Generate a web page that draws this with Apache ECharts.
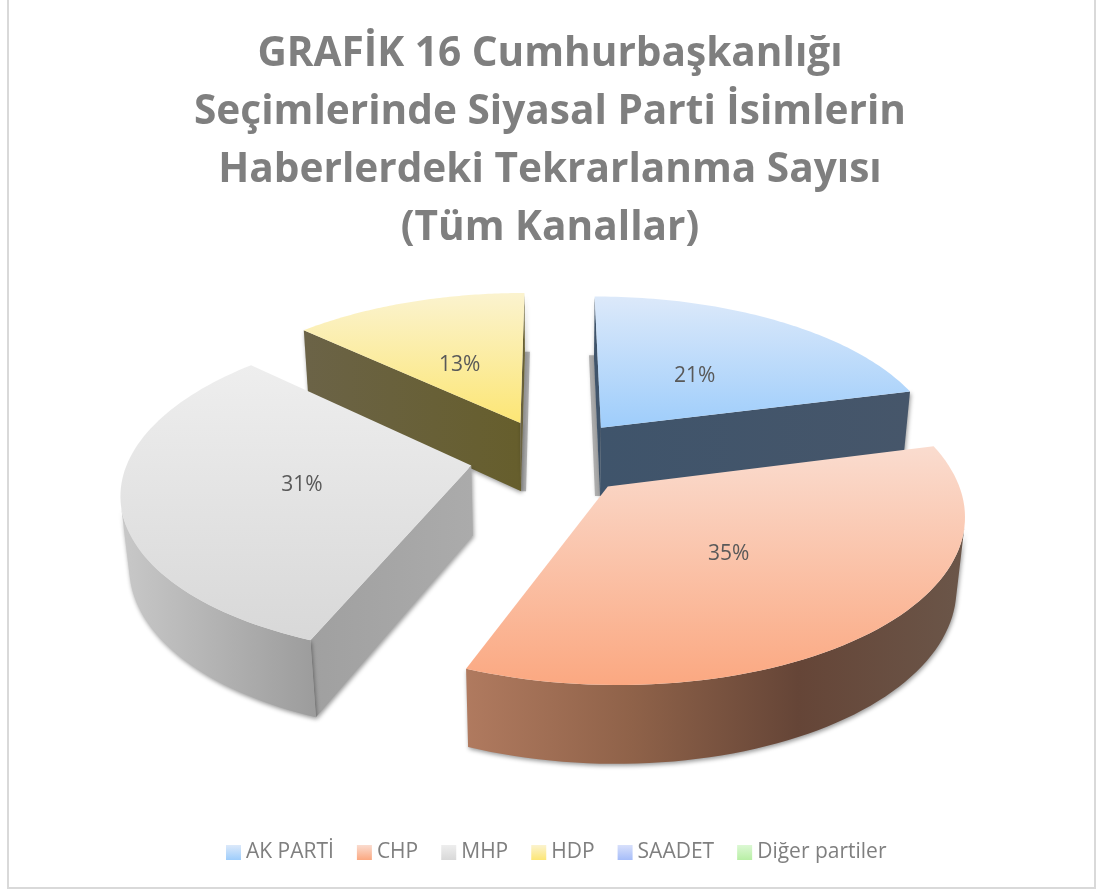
<!DOCTYPE html>
<html><head><meta charset="utf-8">
<style>html,body{margin:0;padding:0;background:#fff}#c{width:1101px;height:890px}</style>
<script src="https://cdn.jsdelivr.net/npm/echarts@6/dist/echarts.min.js"></script>
</head><body><div id="c"></div>
<script>
// Data
const categories = ['AK PARTİ','CHP','MHP','HDP','SAADET','Diğer partiler'];
const shares = [21,35,31,13,0,0];
const titleLines = ['GRAFİK 16 Cumhurbaşkanlığı','Seçimlerinde Siyasal Parti İsimlerin','Haberlerdeki Tekrarlanma Sayısı','(Tüm Kanallar)'];

// Style per category
const topFrom = ['#dce9fa','#fadccf','#eeeeee','#fbf3cf','#d8e0fb','#dcf8d4'];
const topTo   = ['#9ecdfb','#fba881','#d8d8d8','#fce675','#a6bdf9','#b8efa5'];
const arcStops = [
  ['#45566a','#45566a'],
  ['#b07a5f','#8f6249','#654537','#6b5649'],
  ['#c8c8c8','#b2b2b2','#9c9c9c'],
  ['#e9d778','#e9d778'],
  ['#888','#888'],['#888','#888']];
// left-to-right on screen
const cutStops = [
  ['#3f546b','#46566a'],
  ['#6b5649','#6b5649'],
  ['#a0a0a0','#ababab'],
  ['#6b6347','#665e2c'],
  ['#888','#888'],['#888','#888']];
const startCutStops = [
  ['#3f546b','#3f546b'],
  ['#6b5649','#6b5649'],
  ['#a0a0a0','#ababab'],
  ['#6b6347','#665e2c'],
  ['#888','#888'],['#888','#888']];
const labelNudgeX = [0,-6,3,-1,0,0];
const labelNudgeY = [5,1,2,6,0,0];
const sideShadowX = [-5,0,0,5,0,0];
const paintOrder = [3,0,2,1,4,5];

// Projection settings
const cx=552, cy=457, R=342, tiltQ=0.465, persp=0.15, depthPersp=0.02, H=71, explode=0.24;
const total = shares.reduce((a,b)=>a+b,0);
function angles(i){
  let s=0; for(let k=0;k<i;k++) s+=shares[k];
  return [s/total*2*Math.PI,(s+shares[i])/total*2*Math.PI];
}
function project(X,Y,z){
  const w=1+persp*Y+depthPersp*z;
  return [cx+X*R/w, cy-Y*R*tiltQ/w+z*H/w];
}
function grad(stops,x0,y0,x1,y1){
  return new echarts.graphic.LinearGradient(x0,y0,x1,y1,stops.map((c,i)=>({offset:i/(stops.length-1),color:c})));
}
function renderSlice(i){
  return function(params,api){
    const v=api.value(0);
    if(!v) return {type:'group',children:[]};
    const [a0,a1]=angles(i), mid=(a0+a1)/2;
    const ox=explode*Math.sin(mid), oy=explode*Math.cos(mid);
    const ground=(rho,t)=>[ox+rho*Math.sin(t),oy+rho*Math.cos(t)];
    const n=72, arc=[];
    for(let k=0;k<=n;k++) arc.push(ground(1,a0+(a1-a0)*k/n));
    const P=(g,z)=>project(g[0],g[1],z);
    const apex=[ox,oy];
    const top=[P(apex,0)].concat(arc.map(g=>P(g,0)));
    const shadow={shadowBlur:4,shadowColor:'rgba(0,0,0,0.4)',shadowOffsetX:1,shadowOffsetY:2};
    const vis=(a,b)=>{
      const A=P(a,0),B=P(b,0),C=P(a,1);
      return (B[1]-A[1])*(C[0]-A[0])-(B[0]-A[0])*(C[1]-A[1])>0;
    };
    const quad=(a,b)=>[P(a,0),P(b,0),P(b,1),P(a,1)];
    const kids=[];
    const poly=(pts,fill,extra)=>kids.push({type:'polygon',shape:{points:pts},style:Object.assign({fill:fill},extra||{})});
    // soft shadow thrown sideways by the narrow straight edge
    if(sideShadowX[i]){
      const e=i===0?arc[0]:arc[n], dx=sideShadowX[i];
      const a=P(e,0.95), b=P(apex,1);
      poly([a,[a[0]+dx,a[1]],[b[0]+dx,b[1]],b],'rgba(150,150,150,0.7)',{shadowBlur:3,shadowColor:'rgba(0,0,0,0.2)'});
    }
    // cut faces
    if(vis(apex,arc[0])) poly(quad(apex,arc[0]),grad(startCutStops[i],0,0,1,0),shadow);
    if(vis(arc[n],apex)) poly(quad(arc[n],apex),grad(cutStops[i],0,0,1,0),shadow);
    // rim wall
    let run=[];
    const flush=()=>{
      if(run.length>1){
        const up=run.map(g=>P(g,0)), dn=run.map(g=>P(g,1)).reverse();
        poly(up.concat(dn),grad(arcStops[i],0,0,1,0),shadow);
      }
      run=[];
    };
    for(let k=0;k<n;k++){
      if(vis(arc[k],arc[k+1])){ if(!run.length) run.push(arc[k]); run.push(arc[k+1]); }
      else flush();
    }
    flush();
    poly(top,grad([topFrom[i],topTo[i]],0,0,0,1));
    const lp=P(ground(0.5,mid),0);
    kids.push({type:'text',style:{text:v+'%',x:lp[0]+labelNudgeX[i],y:lp[1]+labelNudgeY[i],align:'center',verticalAlign:'middle',
      fill:'#595959',font:'21px "Open Sans", sans-serif'}});
    return {type:'group',children:kids};
  };
}
const series=paintOrder.map(i=>({
  name:categories[i],
  type:'custom',
  coordinateSystem:'none',
  silent:true,
  animation:false,
  renderItem:renderSlice(i),
  itemStyle:{color:grad([topFrom[i],topTo[i]],0,0,0,1)},
  data:[[shares[i]]]
}));
const chart=echarts.init(document.getElementById('c'),null,{renderer:'canvas'});
chart.setOption({
  backgroundColor:'#ffffff',
  animation:false,
  title:{
    text:titleLines.join('\n'),left:545,top:20,textAlign:'center',
    textStyle:{color:'#7f7f7f',fontFamily:'"Open Sans", sans-serif',fontWeight:'bold',fontSize:40.6,lineHeight:58}
  },
  legend:{
    data:categories,left:221,top:837,icon:'rect',itemWidth:15,itemHeight:15,itemGap:23,
    selectedMode:false,
    textStyle:{color:'#7f7f7f',fontFamily:'"Open Sans", sans-serif',fontSize:21}
  },
  graphic:[{type:'polyline',silent:true,shape:{points:[[8,0],[8,888],[1095,888],[1095,0]]},
    style:{stroke:'#d9d9d9',lineWidth:2,fill:null}}],
  series:series
});
</script></body></html>
